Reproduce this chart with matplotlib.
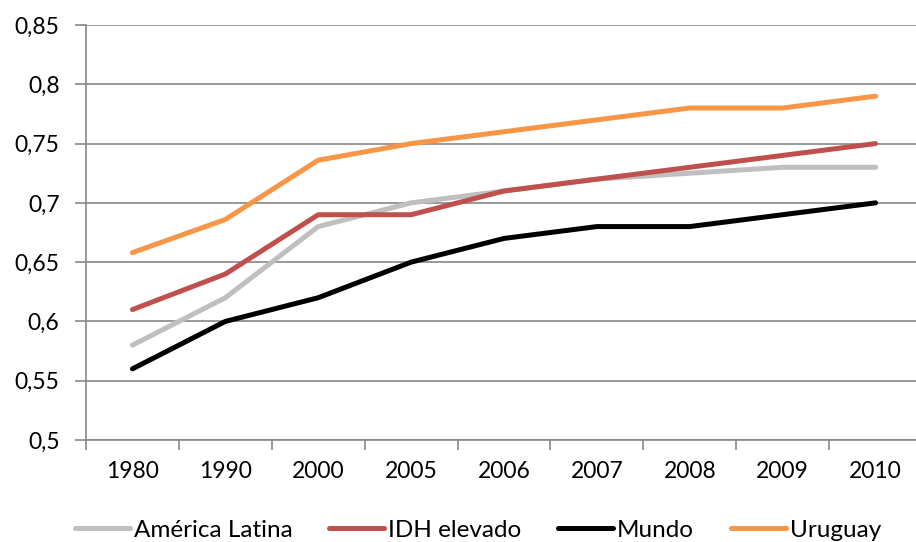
import matplotlib
matplotlib.use("Agg")
import matplotlib.pyplot as plt
from matplotlib.ticker import FixedLocator

plt.rcParams['font.family'] = ['Lato', 'DejaVu Sans']

years = ["1980", "1990", "2000", "2005", "2006", "2007", "2008", "2009", "2010"]
america_latina = [0.58, 0.62, 0.68, 0.70, 0.71, 0.72, 0.725, 0.73, 0.73]
idh_elevado = [0.61, 0.64, 0.69, 0.69, 0.71, 0.72, 0.73, 0.74, 0.75]
mundo = [0.56, 0.60, 0.62, 0.65, 0.67, 0.68, 0.68, 0.69, 0.70]
uruguay = [0.658, 0.686, 0.736, 0.75, 0.76, 0.77, 0.78, 0.78, 0.79]
y_ticks = [0.5, 0.55, 0.6, 0.65, 0.7, 0.75, 0.8, 0.85]
y_labels = ["0,5", "0,55", "0,6", "0,65", "0,7", "0,75", "0,8", "0,85"]

W, H = 916, 542
fig = plt.figure(figsize=(W / 100, H / 100), dpi=100)
ax = fig.add_axes([86 / W, (H - 440) / H, (W - 86) / W, (440 - 25) / H])

x = list(range(len(years)))
series = [
    ("América Latina", america_latina, "#BFBFBF"),
    ("IDH elevado", idh_elevado, "#C0504D"),
    ("Mundo", mundo, "#000000"),
    ("Uruguay", uruguay, "#F79646"),
]
for name, vals, col in series:
    ax.plot(x, vals, color=col, lw=3.6, solid_capstyle="round",
            solid_joinstyle="round", label=name)

ax.set_ylim(0.5, 0.85)
ax.set_xlim(-0.5, 8.5 - 6 / 92.9)
ax.set_yticks(y_ticks)
ax.set_yticklabels(y_labels)
ax.yaxis.grid(True, color="#888888", lw=1.2)
ax.set_axisbelow(True)

fs = 16.5
ax.set_xticks(x)
ax.set_xticklabels(years)
ax.xaxis.set_minor_locator(FixedLocator([i + 0.5 for i in range(-1, len(years))]))
ax.tick_params(axis="x", which="major", length=0, pad=15, labelsize=fs)
ax.tick_params(axis="x", which="minor", length=7, width=1.2, color="#888888", direction="out")
ax.tick_params(axis="y", length=8, width=1.2, color="#888888", direction="out",
               labelsize=fs, pad=11)

for s in ["top", "right"]:
    ax.spines[s].set_visible(False)
for s in ["left", "bottom"]:
    ax.spines[s].set_color("#888888")
    ax.spines[s].set_linewidth(1.2)

lfs = 17.5
fig.legend(loc="center", bbox_to_anchor=(478 / W, 12 / H), ncol=4,
           frameon=False, fontsize=lfs, handlelength=2.26, handletextpad=0.17,
           columnspacing=1.5, borderpad=0)

fig.savefig("out.png", dpi=100)
